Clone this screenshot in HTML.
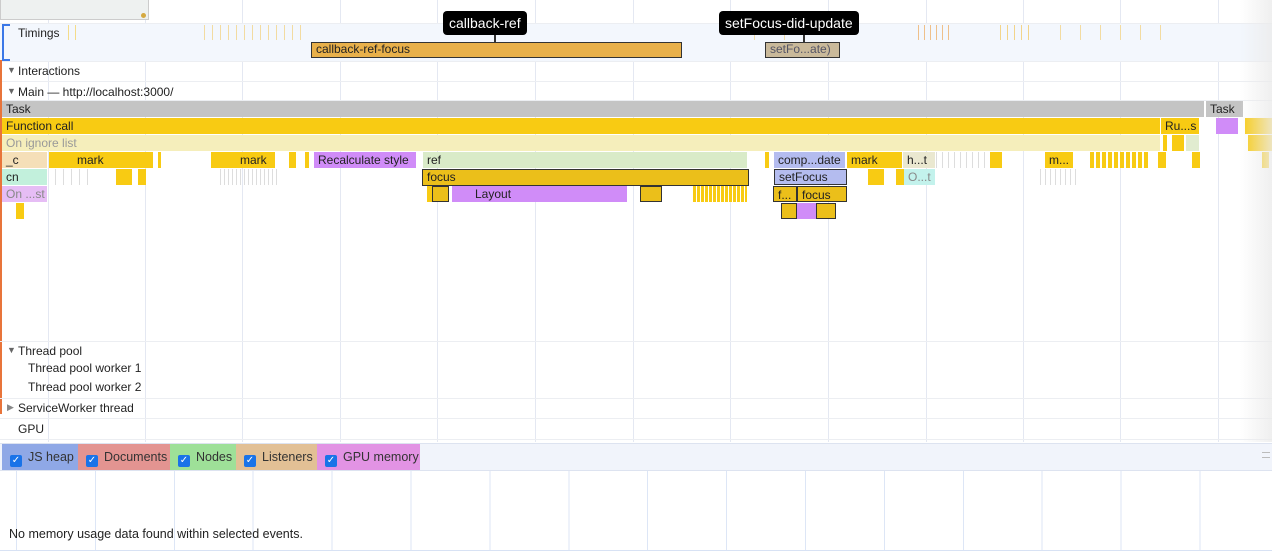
<!DOCTYPE html>
<html><head><meta charset="utf-8"><style>
*{margin:0;padding:0;box-sizing:border-box}
body{width:1272px;height:558px;overflow:hidden;background:#fff;font-family:"Liberation Sans",sans-serif;font-size:12px;color:#222;position:relative}
.a{position:absolute}
.g{position:absolute;top:0;width:1px;height:442px;background:#e4e8f2}
.h{position:absolute;left:0;width:1272px;height:1px;background:#eceef2}
.b{position:absolute;height:16px;line-height:16px;padding-left:4px;white-space:nowrap;overflow:hidden;font-size:12px;color:#222}
.y{background:#f8cb13}.y2{background:#ebbf1a}.p{background:#d08cf8}.gr{background:#c4c4c4}
.k{border:1.5px solid #333}
.lab{position:absolute;font-size:12px;color:#222}
.tip{position:absolute;background:#000;color:#fff;font-size:14px;height:24px;line-height:24px;padding:0 6px;border-radius:4px}
.cb{display:inline-block;width:12px;height:12px;background:#1a73e8;border-radius:2px;color:#fff;font-size:10px;line-height:12px;text-align:center;margin-right:6px;vertical-align:-2px}
.mt{position:absolute;top:444px;height:26px;line-height:26px;padding-left:8px;font-size:12.5px;color:#333}
</style></head><body>
<div class="g" style="left:48px"></div><div class="g" style="left:145px"></div><div class="g" style="left:242px"></div><div class="g" style="left:340px"></div><div class="g" style="left:437px"></div><div class="g" style="left:535px"></div><div class="g" style="left:633px"></div><div class="g" style="left:730px"></div><div class="g" style="left:828px"></div><div class="g" style="left:926px"></div><div class="g" style="left:1023px"></div><div class="g" style="left:1120px"></div><div class="g" style="left:1218px"></div>
<div class="a" style="left:0;top:0;width:149px;height:20px;background:#eef1f0;border:1px solid #ccc;border-top:none"></div>
<div class="a" style="left:141px;top:13px;width:5px;height:5px;background:#d5a940;border-radius:50%"></div>
<div class="a" style="left:0;top:24px;width:1272px;height:37px;background:#f3f7fd"></div>
<div class="a" style="left:2px;top:24px;height:37px;border:2px solid #3b78e7;border-right:none;width:8px"></div>
<div class="lab" style="left:18px;top:26px">Timings</div>
<div class="h" style="top:23px"></div><div class="h" style="top:61px"></div><div class="h" style="top:81px"></div><div class="h" style="top:100px"></div>
<div class="a" style="left:68px;top:25px;width:8px;height:15px;border-left:1px solid #f4dc8a;border-right:1px solid #f4dc8a"></div>
<div class="a" style="left:204px;top:25px;width:100px;height:15px;background:repeating-linear-gradient(90deg,#f2d48a 0 1px,transparent 1px 8px);opacity:.8"></div>
<div class="a" style="left:754px;top:25px;width:60px;height:15px;background:repeating-linear-gradient(90deg,#f2d48a 0 1px,transparent 1px 30px);opacity:.7"></div>
<div class="a" style="left:918px;top:25px;width:36px;height:15px;background:repeating-linear-gradient(90deg,#efc08a 0 1px,transparent 1px 6px)"></div>
<div class="a" style="left:1000px;top:25px;width:30px;height:15px;background:repeating-linear-gradient(90deg,#f2d48a 0 1px,transparent 1px 7px)"></div>
<div class="a" style="left:1060px;top:25px;width:120px;height:15px;background:repeating-linear-gradient(90deg,#f2d48a 0 1px,transparent 1px 20px);opacity:.8"></div>
<div class="b k" style="left:311px;top:42px;width:371px;height:16px;line-height:13px;background:#e8b04a">callback-ref-focus</div>
<div class="b k" style="left:765px;top:42px;width:75px;height:16px;line-height:13px;background:#c9b99a;color:#556">setFo...ate)</div>
<div class="tip" style="left:443px;top:11px">callback-ref</div>
<div class="a" style="left:494px;top:35px;width:2px;height:7px;background:#333"></div>
<div class="tip" style="left:719px;top:11px">setFocus-did-update</div>
<div class="a" style="left:803px;top:35px;width:2px;height:7px;background:#333"></div>
<div class="a" style="left:0;top:60px;width:2px;height:354px;background:#e8743a"></div>
<div class="lab" style="left:7px;top:65px;font-size:9px;color:#666">▼</div><div class="lab" style="left:18px;top:64px">Interactions</div>
<div class="lab" style="left:7px;top:86px;font-size:9px;color:#666">▼</div><div class="lab" style="left:18px;top:85px">Main — http://localhost:3000/</div>
<div class="b gr" style="left:2px;top:101px;width:1202px">Task</div>
<div class="b gr" style="left:1206px;top:101px;width:37px">Task</div>
<div class="b y" style="left:2px;top:118px;width:1158px">Function call</div>
<div class="b y" style="left:1161px;top:118px;width:38px">Ru...s</div>
<div class="b p" style="left:1216px;top:118px;width:22px"></div>
<div class="b y" style="left:1245px;top:118px;width:27px"></div>
<div class="b" style="left:2px;top:135px;width:1158px;background:#f5eebb;color:#999">On ignore list</div>
<div class="b y" style="left:1163px;top:135px;width:4px;padding:0"></div>
<div class="b y" style="left:1172px;top:135px;width:12px;padding:0"></div>
<div class="b" style="left:1186px;top:135px;width:13px;background:#e1ecd0"></div>
<div class="b y" style="left:1248px;top:135px;width:24px;padding:0"></div>
<div class="b" style="left:2px;top:152px;width:45px;background:#f5dfb8">_c</div>
<div class="b y" style="left:49px;top:152px;width:104px;padding-left:28px">mark</div>
<div class="a" style="left:158px;top:152px;width:3px;height:16px;background:#f8cb13"></div>
<div class="b y" style="left:211px;top:152px;width:64px;padding-left:29px">mark</div>
<div class="b y" style="left:289px;top:152px;width:7px;padding:0"></div>
<div class="b y" style="left:305px;top:152px;width:4px;padding:0"></div>
<div class="b p" style="left:314px;top:152px;width:102px">Recalculate style</div>
<div class="b" style="left:423px;top:152px;width:324px;background:#d9ebc8">ref</div>
<div class="b y" style="left:765px;top:152px;width:4px;padding:0"></div>
<div class="b" style="left:774px;top:152px;width:71px;background:#b4bcef">comp...date</div>
<div class="b y" style="left:847px;top:152px;width:55px">mark</div>
<div class="b" style="left:903px;top:152px;width:32px;background:#eae8d0">h...t</div>
<div class="b y" style="left:990px;top:152px;width:12px;padding:0"></div>
<div class="b y" style="left:1045px;top:152px;width:28px">m...</div>
<div class="a" style="left:1090px;top:152px;width:58px;height:16px;background:repeating-linear-gradient(90deg,#f8cb13 0 4px,transparent 4px 6px)"></div>
<div class="b y" style="left:1158px;top:152px;width:8px;padding:0"></div>
<div class="b y" style="left:1192px;top:152px;width:8px;padding:0"></div>
<div class="b y" style="left:1262px;top:152px;width:7px;padding:0"></div>
<div class="a" style="left:936px;top:152px;width:50px;height:16px;background:repeating-linear-gradient(90deg,#ddd 0 1px,transparent 1px 6px)"></div>
<div class="b" style="left:2px;top:169px;width:45px;background:#c2f0dc">cn</div>
<div class="a" style="left:55px;top:169px;width:40px;height:16px;background:repeating-linear-gradient(90deg,#ddd 0 1px,transparent 1px 8px)"></div>
<div class="b y" style="left:116px;top:169px;width:16px;padding:0"></div>
<div class="b y" style="left:138px;top:169px;width:8px;padding:0"></div>
<div class="a" style="left:220px;top:169px;width:60px;height:16px;background:repeating-linear-gradient(90deg,#ddd 0 1px,transparent 1px 4px)"></div>
<div class="b y2 k" style="left:422px;top:169px;width:327px;height:17px;line-height:14px">focus</div>
<div class="b" style="left:774px;top:169px;width:73px;background:#b4bcef;border:1px solid #333;line-height:14px">setFocus</div>
<div class="b y" style="left:868px;top:169px;width:16px;padding:0"></div>
<div class="b y" style="left:896px;top:169px;width:8px;padding:0"></div>
<div class="b" style="left:904px;top:169px;width:31px;background:#c3f2ec;color:#888">O...t</div>
<div class="a" style="left:1040px;top:169px;width:40px;height:16px;background:repeating-linear-gradient(90deg,#ddd 0 1px,transparent 1px 5px)"></div>
<div class="b" style="left:2px;top:186px;width:45px;background:#e6bdf5;color:#888">On ...st</div>
<div class="b y" style="left:427px;top:186px;width:5px;padding:0"></div>
<div class="b y2 k" style="left:432px;top:186px;width:17px;padding:0"></div>
<div class="b p" style="left:452px;top:186px;width:175px;padding-left:23px">Layout</div>
<div class="b y2 k" style="left:640px;top:186px;width:22px;padding:0"></div>
<div class="a" style="left:693px;top:186px;width:54px;height:16px;background:repeating-linear-gradient(90deg,#f8cb13 0 3px,transparent 3px 4px)"></div>
<div class="b y2 k" style="left:773px;top:186px;width:24px">f...</div>
<div class="b y2 k" style="left:797px;top:186px;width:50px">focus</div>
<div class="b y" style="left:16px;top:203px;width:8px;padding:0"></div>
<div class="b y2 k" style="left:781px;top:203px;width:16px;padding:0"></div>
<div class="b p" style="left:797px;top:203px;width:19px;padding:0"></div>
<div class="b y2 k" style="left:816px;top:203px;width:20px;padding:0"></div>
<div class="h" style="top:341px"></div><div class="h" style="top:398px"></div><div class="h" style="top:418px"></div><div class="h" style="top:439px"></div>
<div class="lab" style="left:7px;top:345px;font-size:9px;color:#666">▼</div><div class="lab" style="left:18px;top:344px">Thread pool</div>
<div class="lab" style="left:28px;top:361px">Thread pool worker 1</div>
<div class="lab" style="left:28px;top:380px">Thread pool worker 2</div>
<div class="lab" style="left:7px;top:402px;font-size:9px;color:#888">▶</div><div class="lab" style="left:18px;top:401px">ServiceWorker thread</div>
<div class="lab" style="left:18px;top:422px">GPU</div>
<div class="a" style="left:1240px;top:0;width:32px;height:442px;background:linear-gradient(90deg,rgba(255,255,255,0),rgba(235,235,235,.8))"></div>
<div class="a" style="left:0;top:443px;width:1272px;height:28px;background:#f1f4fb;border-top:1px solid #dde3f0;border-bottom:1px solid #dde3f0"></div>
<div class="mt" style="left:2px;width:76px;background:#8fa8e6"><span class="cb">✓</span>JS heap</div>
<div class="mt" style="left:78px;width:92px;background:#e39491"><span class="cb">✓</span>Documents</div>
<div class="mt" style="left:170px;width:66px;background:#9ee098"><span class="cb">✓</span>Nodes</div>
<div class="mt" style="left:236px;width:81px;background:#e2c095"><span class="cb">✓</span>Listeners</div>
<div class="mt" style="left:317px;width:103px;background:#e293e4"><span class="cb">✓</span>GPU memory</div>
<div class="a" style="left:1262px;top:452px;width:8px;height:6px;border-top:1px solid #bbb;border-bottom:1px solid #bbb"></div>
<div class="a" style="left:16px;top:471px;width:1256px;height:79px;background:repeating-linear-gradient(90deg,#dde6f6 0 1px,transparent 1px 78.9px)"></div>
<div class="h" style="top:550px;background:#d8e2f4"></div>
<div class="lab" style="left:9px;top:527px;font-size:12.5px">No memory usage data found within selected events.</div>
</body></html>
